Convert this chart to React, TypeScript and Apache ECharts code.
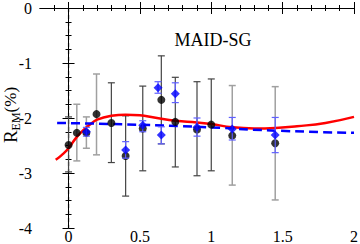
import React, { useEffect, useRef } from "react";
import * as echarts from "echarts";

// Black points, set with dark error bars
const darkX = [0, 0.3, 0.4, 0.52, 0.65, 0.748, 0.9, 1.0];
const darkY = [-2.49, -2.09, -2.69, -2.19, -1.67, -2.07, -2.21, -2.12];
const darkLo = [-2.98, -2.81, -3.42, -2.96, -2.47, -2.89, -3.05, -2.96];
const darkHi = [-1.98, -1.36, -1.96, -1.42, -0.87, -1.26, -1.34, -1.29];

// Black points, set with light error bars
const lightX = [0.058, 0.125, 0.196, 1.147, 1.448];
const lightY = [-2.27, -2.27, -1.93, -2.32, -2.46];
const lightLo = [-2.78, -2.55, -2.67, -3.22, -3.49];
const lightHi = [-1.75, -1.98, -1.2, -1.41, -1.43];

// Blue points
const blueX = [0.125, 0.4, 0.52, 0.627, 0.65, 0.748, 0.9, 1.147, 1.448];
const blueY = [-2.25, -2.58, -2.13, -1.45, -2.31, -1.56, -2.17, -2.2, -2.31];
const blueLo = [-2.33, -2.73, -2.25, -1.55, -2.47, -1.72, -2.33, -2.4, -2.63];
const blueHi = [-2.17, -2.43, -2.05, -1.34, -2.16, -1.36, -2.0, -1.99, -1.99];

// MAID-SG red curve
const redX = [-0.09, -0.05, 0, 0.05, 0.1, 0.15, 0.2, 0.3, 0.4, 0.5, 0.6, 0.75, 0.9, 1.0, 1.15, 1.3, 1.45, 1.6, 1.8, 2.0];
const redY = [-2.76, -2.68, -2.55, -2.37, -2.23, -2.12, -2.03, -1.96, -1.94, -1.95, -1.99, -2.05, -2.08, -2.11, -2.17, -2.19, -2.18, -2.15, -2.09, -1.98];

// Blue dashed curve
const bLineX = [-0.08, 0.3, 0.9, 1.45, 2.0];
const bLineY = [-2.09, -2.11, -2.16, -2.23, -2.27];

// Vertical reference line at x = 0
const refLine = [[0, 0, -4]];

const xMajor = [0, 0.5, 1, 1.5, 2];
const xMinor = [-0.1, 0.1, 0.2, 0.3, 0.4, 0.6, 0.7, 0.8, 0.9, 1.1, 1.2, 1.3, 1.4, 1.6, 1.7, 1.8, 1.9];

const FONT = "'Liberation Serif', 'DejaVu Serif', serif";

function zip2(a: number[], b: number[]) {
  return a.map((v, i) => [v, b[i]]);
}
function zip3(a: number[], b: number[], c: number[]) {
  return a.map((v, i) => [v, b[i], c[i]]);
}

function errRender(color: string, lw: number, cap: number) {
  return (params: any, api: any) => {
    const x = api.value(0);
    const lo = api.coord([x, api.value(1)]);
    const hi = api.coord([x, api.value(2)]);
    const st = { stroke: color, lineWidth: lw };
    return {
      type: "group",
      children: [
        { type: "line", shape: { x1: lo[0], y1: lo[1], x2: hi[0], y2: hi[1] }, style: st },
        { type: "line", shape: { x1: lo[0] - cap, y1: lo[1], x2: lo[0] + cap, y2: lo[1] }, style: st },
        { type: "line", shape: { x1: hi[0] - cap, y1: hi[1], x2: hi[0] + cap, y2: hi[1] }, style: st },
      ],
    };
  };
}

function vlineRender(params: any, api: any) {
  const x = api.value(0);
  const a = api.coord([x, api.value(1)]);
  const b = api.coord([x, api.value(2)]);
  return {
    type: "line",
    shape: { x1: a[0], y1: a[1], x2: b[0], y2: b[1] },
    style: { stroke: "#000", lineWidth: 1.2, lineDash: [4, 3] },
  };
}

export default function App() {
  const ref = useRef<HTMLDivElement>(null);
  useEffect(() => {
    document.body.style.margin = "0";
    if (!ref.current) return;
    const chart = echarts.init(ref.current, undefined, { renderer: "svg" });
    const axisLine = { show: true, lineStyle: { color: "#000", width: 1 } };
    const xBase = { type: "value", min: -0.2, max: 2, gridIndex: 0, splitLine: { show: false } };
    const yBase = { type: "value", min: -4, max: 0, interval: 1, splitLine: { show: false } };
    chart.setOption({
      animation: false,
      grid: { left: 40, right: 6, top: 8, bottom: 16, containLabel: false, outerBoundsMode: "none" },
      xAxis: [
        {
          ...xBase,
          position: "bottom",
          axisLine,
          axisTick: { inside: true, length: 6, customValues: xMajor, lineStyle: { color: "#000" } },
          axisLabel: { customValues: xMajor, margin: 0, fontSize: 16, lineHeight: 16, fontFamily: FONT, color: "#000" },
        },
        {
          ...xBase,
          position: "bottom",
          axisLine: { show: false },
          axisTick: { inside: true, length: 3, customValues: xMinor, lineStyle: { color: "#000" } },
          axisLabel: { show: false },
        },
        {
          ...xBase,
          position: "top",
          axisLine,
          axisTick: { inside: true, length: 6, customValues: xMajor, lineStyle: { color: "#000" } },
          axisLabel: { show: false },
        },
        {
          ...xBase,
          position: "top",
          axisLine: { show: false },
          axisTick: { inside: true, length: 3, customValues: xMinor, lineStyle: { color: "#000" } },
          axisLabel: { show: false },
        },
      ],
      yAxis: [
        {
          ...yBase,
          position: "left",
          axisLine,
          axisTick: { inside: true, length: 6, lineStyle: { color: "#000" } },
          minorTick: { show: true, splitNumber: 4, length: 3, lineStyle: { color: "#000" } },
          axisLabel: { margin: 8, fontSize: 16, fontFamily: FONT, color: "#000" },
        },
        {
          ...yBase,
          position: "right",
          axisLine,
          axisTick: { inside: true, length: 6, lineStyle: { color: "#000" } },
          minorTick: { show: true, splitNumber: 4, length: 3, lineStyle: { color: "#000" } },
          axisLabel: { show: false },
        },
      ],
      graphic: [
        {
          type: "text",
          x: 213,
          y: 40,
          style: {
            text: "MAID-SG",
            fontSize: 18,
            fontFamily: FONT,
            fill: "#000",
            align: "center",
            verticalAlign: "middle",
          },
        },
        {
          type: "text",
          x: 10,
          y: 115,
          rotation: Math.PI / 2,
          style: {
            text: "{r|R}{s|EM}{p|(%)}",
            fontFamily: FONT,
            fill: "#000",
            align: "center",
            verticalAlign: "middle",
            rich: {
              r: { fontSize: 19, fontFamily: FONT, fill: "#000", lineHeight: 24 },
              s: { fontSize: 12, fontFamily: FONT, fill: "#000", lineHeight: 12, verticalAlign: "bottom" },
              p: { fontSize: 17, fontFamily: FONT, fill: "#000", lineHeight: 24 },
            },
          },
        },
      ],
      series: [
        {
          type: "custom",
          data: refLine,
          encode: { x: 0, y: [1, 2] },
          renderItem: vlineRender,
          z: 1,
        },
        {
          type: "custom",
          data: zip3(darkX, darkLo, darkHi),
          encode: { x: 0, y: [1, 2] },
          renderItem: errRender("#444444", 1.2, 3.5),
          z: 2,
        },
        {
          type: "custom",
          data: zip3(lightX, lightLo, lightHi),
          encode: { x: 0, y: [1, 2] },
          renderItem: errRender("#a0a0a0", 1.5, 3.5),
          z: 2,
        },
        {
          type: "line",
          data: zip2(redX, redY),
          smooth: true,
          symbol: "none",
          lineStyle: { color: "#ff0000", width: 2.5 },
          z: 3,
        },
        {
          type: "line",
          data: zip2(bLineX, bLineY),
          smooth: true,
          symbol: "none",
          lineStyle: { color: "#0000ff", width: 2.5, type: [9, 5] },
          z: 3,
        },
        {
          type: "scatter",
          data: zip2(darkX, darkY).concat(zip2(lightX, lightY)),
          symbol: "circle",
          symbolSize: 8,
          itemStyle: { color: "#000" },
          z: 4,
        },
        {
          type: "custom",
          data: zip3(blueX, blueLo, blueHi),
          encode: { x: 0, y: [1, 2] },
          renderItem: errRender("#6060ff", 1.2, 3.5),
          z: 5,
        },
        {
          type: "scatter",
          data: zip2(blueX, blueY),
          symbol: "diamond",
          symbolSize: 9,
          itemStyle: { color: "#0000ff" },
          z: 6,
        },
      ],
    });
    return () => chart.dispose();
  }, []);
  return <div ref={ref} style={{ width: 360, height: 244 }} />;
}
